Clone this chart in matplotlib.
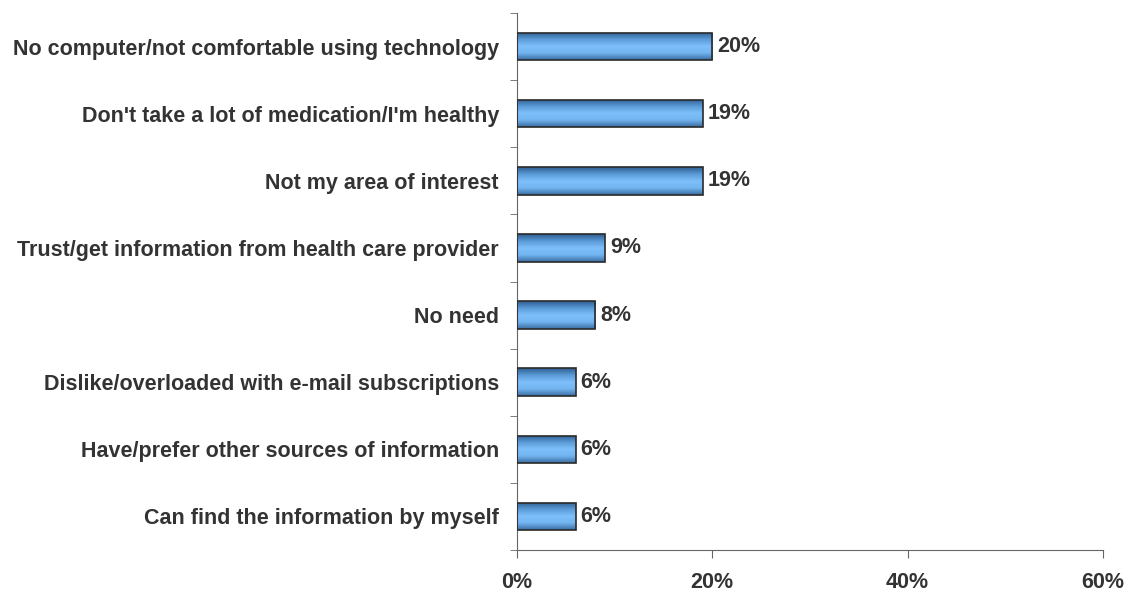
import numpy as np
import matplotlib.pyplot as plt
from matplotlib.colors import LinearSegmentedColormap

# reasons for not signing up, share of respondents (%)
reasons = ["No computer/not comfortable using technology",
           "Don't take a lot of medication/I'm healthy",
           "Not my area of interest",
           "Trust/get information from health care provider",
           "No need",
           "Dislike/overloaded with e-mail subscriptions",
           "Have/prefer other sources of information",
           "Can find the information by myself"]
shares = [20, 19, 19, 9, 8, 6, 6, 6]
xticks = [0, 20, 40, 60]

plt.rcParams['font.family'] = ['Liberation Sans', 'DejaVu Sans']
textcol = '#333333'
fsize = 15.5

fig = plt.figure(figsize=(11.4, 5.97), dpi=100)
ax = fig.add_axes([0.4535, 0.0787, 0.5140, 0.8995])

ypos = np.arange(len(reasons))[::-1]
bars = ax.barh(ypos, shares, height=0.41, color='none', edgecolor='#2a2a2a',
               linewidth=1.2, zorder=3)

# vertical shading inside each bar: dark edges, light band in the middle
shade = LinearSegmentedColormap.from_list(
    'bar', ['#2f5f92', '#5a9ad6', '#7ec0fb', '#72b4ef', '#3b6ea3'])
grad = np.linspace(0, 1, 64).reshape(-1, 1)
for b in bars:
    x0, y0 = b.get_x(), b.get_y()
    w, h = b.get_width(), b.get_height()
    im = ax.imshow(grad, cmap=shade, aspect='auto', origin='upper',
                   extent=(x0, x0 + w, y0, y0 + h), zorder=2)
    im.set_clip_path(b)

for y, v in zip(ypos, shares):
    ax.text(v + 0.5, y, f"{v}%", va='center', ha='left', fontsize=fsize,
            fontweight='bold', color=textcol)

ax.set_xlim(0, 60)
ax.set_ylim(-0.5, len(reasons) - 0.5)
ax.set_xticks(xticks)
ax.set_xticklabels([f"{t}%" for t in xticks], fontsize=fsize, fontweight='bold',
                   color=textcol)
ax.set_yticks(ypos)
ax.set_yticklabels(reasons, fontsize=fsize, fontweight='bold', color=textcol)
ax.set_yticks(np.arange(-0.5, len(reasons), 1), minor=True)
ax.tick_params(axis='y', which='major', length=0, pad=13)
ax.tick_params(axis='y', which='minor', length=5, color='#666666', direction='out')
ax.tick_params(axis='x', length=6, color='#666666', pad=10)

for s in ['top', 'right']:
    ax.spines[s].set_visible(False)
for s in ['left', 'bottom']:
    ax.spines[s].set_color('#666666')
ax.set_axisbelow(True)

fig.savefig('out.png', dpi=100)
